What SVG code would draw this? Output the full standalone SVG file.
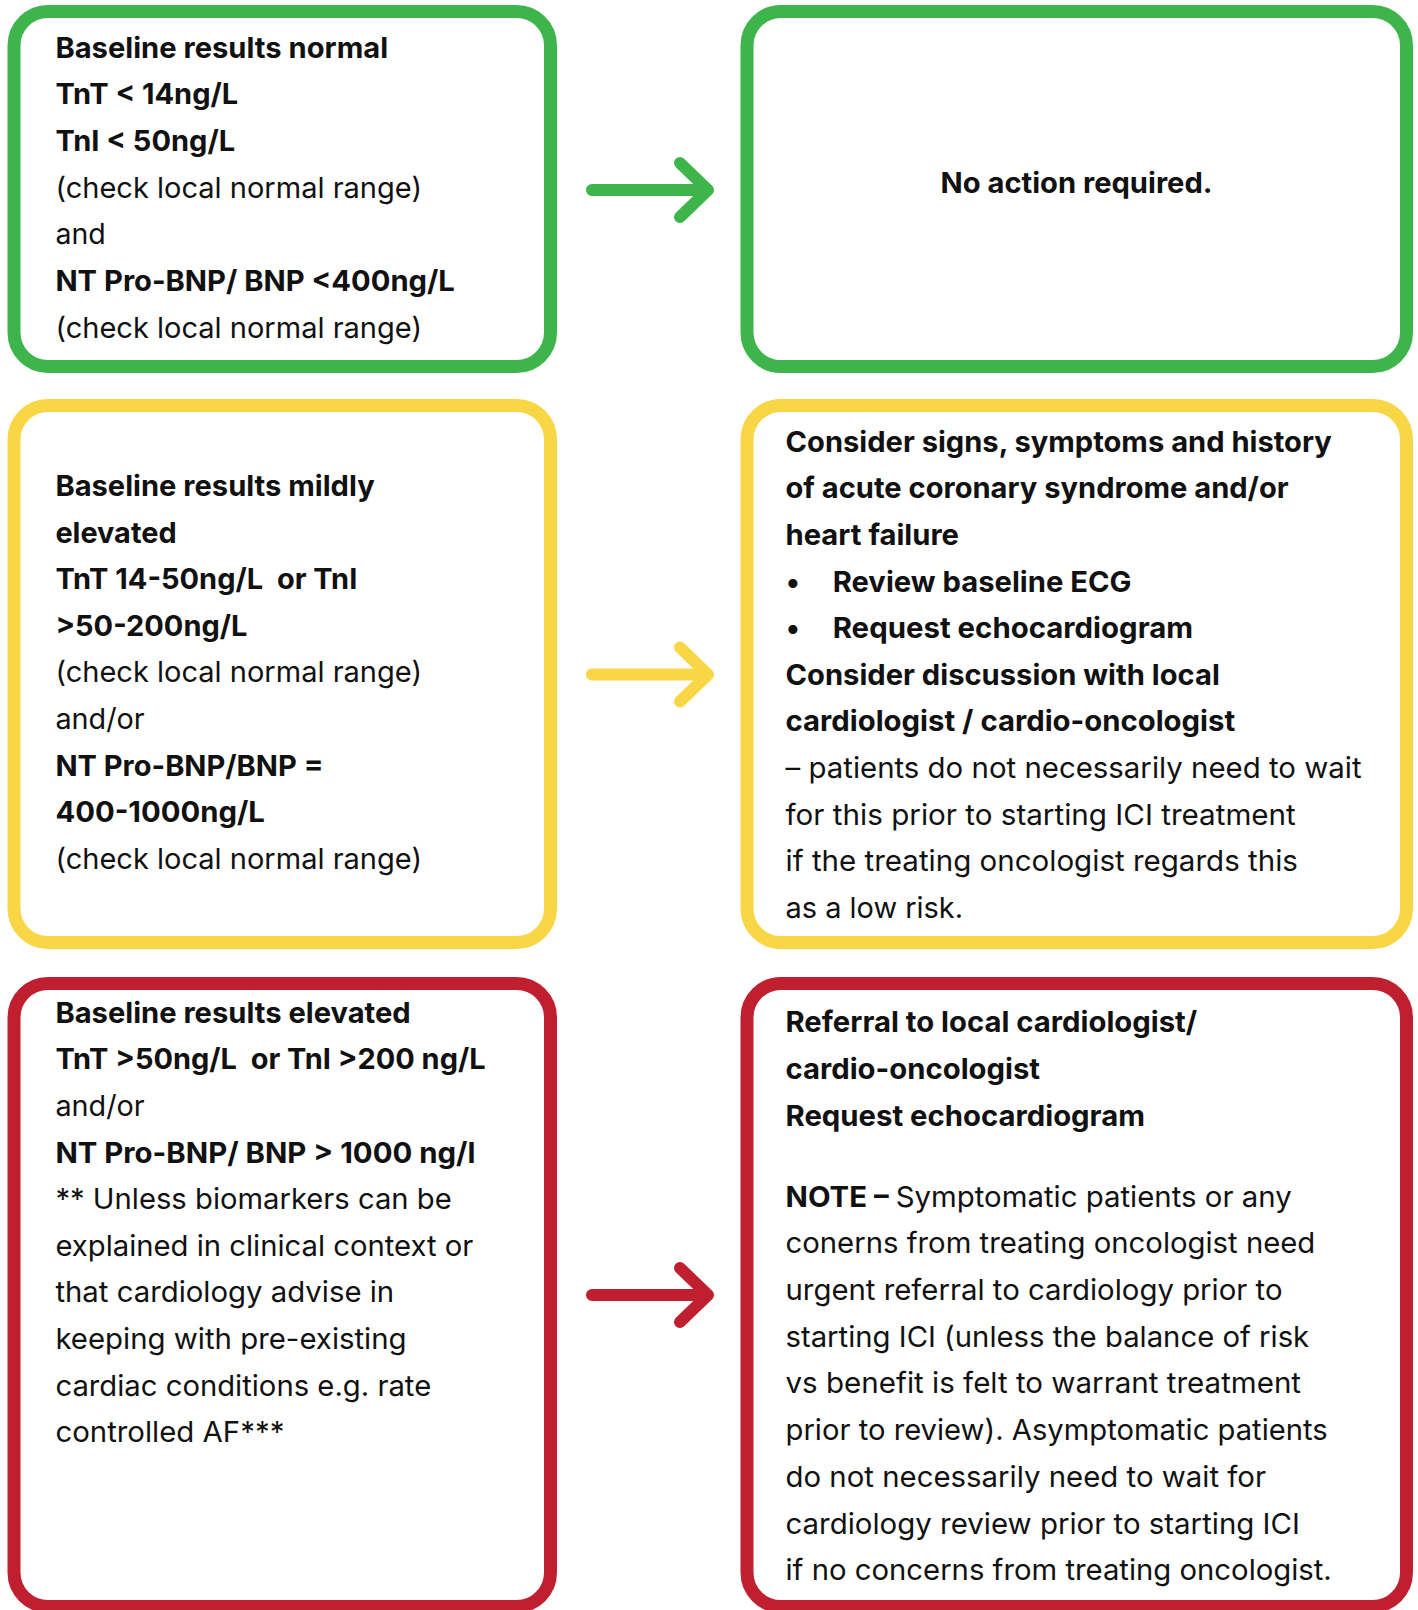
<svg xmlns="http://www.w3.org/2000/svg" width="1418" height="1610" viewBox="0 0 1418 1610">
<style>
.box{fill:#fff;stroke-width:13}
.g{stroke:#3DB54A}.y{stroke:#F9D646}.r{stroke:#C01F30}
.arr{fill:none;stroke-width:12;stroke-linecap:round;stroke-linejoin:round}
text{font-family:Inter,"Liberation Sans",sans-serif;font-size:29px;fill:#111}
.b{font-weight:700}
</style>
<rect width="1418" height="1610" fill="#fff"/>
<g id="connectors">
<path class="arr g" d="M592 190H708M680 163L708 190L680 217"/>
<path class="arr y" d="M592 674.5H708M680 647.5L708 674.5L680 701.5"/>
<path class="arr r" d="M592 1295H708M680 1268L708 1295L680 1322"/>
</g>
<g id="normal-results">
<rect class="box g" x="14" y="11.5" width="536.5" height="355" rx="34"/>
<text x="55.4" y="57.5" class="b" textLength="332.7" lengthAdjust="spacingAndGlyphs">Baseline results normal</text>
<text x="55.4" y="104.2" class="b" textLength="182.8" lengthAdjust="spacingAndGlyphs">TnT &lt; 14ng/L</text>
<text x="55.4" y="150.9" class="b" textLength="179.7" lengthAdjust="spacingAndGlyphs">TnI &lt; 50ng/L</text>
<text x="55.4" y="197.6" textLength="366.6" lengthAdjust="spacingAndGlyphs">(check local normal range)</text>
<text x="55.4" y="244.3" textLength="50.3" lengthAdjust="spacingAndGlyphs">and</text>
<text x="55.4" y="291" class="b" textLength="399.4" lengthAdjust="spacingAndGlyphs">NT Pro-BNP/ BNP &lt;400ng/L</text>
<text x="55.4" y="337.7" textLength="366.6" lengthAdjust="spacingAndGlyphs">(check local normal range)</text>
</g>
<g id="no-action">
<rect class="box g" x="747" y="11.5" width="659.5" height="355" rx="34"/>
<text x="1076.5" y="193" class="b" text-anchor="middle" textLength="272" lengthAdjust="spacingAndGlyphs">No action required.</text>
</g>
<g id="mild-results">
<rect class="box y" x="14" y="405.5" width="536.5" height="537" rx="34"/>
<text x="55.4" y="496" class="b" textLength="319.3" lengthAdjust="spacingAndGlyphs">Baseline results mildly</text>
<text x="55.4" y="542.6" class="b" textLength="121.2" lengthAdjust="spacingAndGlyphs">elevated</text>
<text x="55.4" y="589.2" class="b" xml:space="preserve" textLength="301.9" lengthAdjust="spacingAndGlyphs">TnT 14-50ng/L  or TnI</text>
<text x="55.4" y="635.8" class="b" textLength="192" lengthAdjust="spacingAndGlyphs">&gt;50-200ng/L</text>
<text x="55.4" y="682.4" textLength="366.6" lengthAdjust="spacingAndGlyphs">(check local normal range)</text>
<text x="55.4" y="729" textLength="89.3" lengthAdjust="spacingAndGlyphs">and/or</text>
<text x="55.4" y="775.6" class="b" textLength="268" lengthAdjust="spacingAndGlyphs">NT Pro-BNP/BNP =</text>
<text x="55.4" y="822.2" class="b" textLength="209.5" lengthAdjust="spacingAndGlyphs">400-1000ng/L</text>
<text x="55.4" y="868.8" textLength="366.6" lengthAdjust="spacingAndGlyphs">(check local normal range)</text>
</g>
<g id="mild-action">
<rect class="box y" x="747" y="405.5" width="659.5" height="537" rx="34"/>
<text x="785.5" y="451.8" class="b" textLength="546.3" lengthAdjust="spacingAndGlyphs">Consider signs, symptoms and history</text>
<text x="785.5" y="498.4" class="b" textLength="503.1" lengthAdjust="spacingAndGlyphs">of acute coronary syndrome and/or</text>
<text x="785.5" y="545" class="b" textLength="173.5" lengthAdjust="spacingAndGlyphs">heart failure</text>
<text x="786" y="591.6" class="b">•</text>
<text x="832.7" y="591.6" class="b" textLength="298.8" lengthAdjust="spacingAndGlyphs">Review baseline ECG</text>
<text x="786" y="638.2" class="b">•</text>
<text x="832.7" y="638.2" class="b" textLength="360.4" lengthAdjust="spacingAndGlyphs">Request echocardiogram</text>
<text x="785.5" y="684.8" class="b" textLength="434.3" lengthAdjust="spacingAndGlyphs">Consider discussion with local</text>
<text x="785.5" y="731.4" class="b" textLength="449.7" lengthAdjust="spacingAndGlyphs">cardiologist / cardio-oncologist</text>
<text x="785.5" y="778" textLength="576" lengthAdjust="spacingAndGlyphs">– patients do not necessarily need to wait</text>
<text x="785.5" y="824.6" textLength="510.3" lengthAdjust="spacingAndGlyphs">for this prior to starting ICI treatment</text>
<text x="785.5" y="871.2" textLength="512.4" lengthAdjust="spacingAndGlyphs">if the treating oncologist regards this</text>
<text x="785.5" y="917.8" textLength="177.6" lengthAdjust="spacingAndGlyphs">as a low risk.</text>
</g>
<g id="elevated-results">
<rect class="box r" x="14" y="983.5" width="536.5" height="623" rx="34"/>
<text x="55.4" y="1022.8" class="b" textLength="355.3" lengthAdjust="spacingAndGlyphs">Baseline results elevated</text>
<text x="55.4" y="1069.4" class="b" xml:space="preserve" textLength="430.2" lengthAdjust="spacingAndGlyphs">TnT &gt;50ng/L  or TnI &gt;200 ng/L</text>
<text x="55.4" y="1116" textLength="89.3" lengthAdjust="spacingAndGlyphs">and/or</text>
<text x="55.4" y="1162.6" class="b" textLength="420" lengthAdjust="spacingAndGlyphs">NT Pro-BNP/ BNP &gt; 1000 ng/l</text>
<text x="55.4" y="1209.2" textLength="396.3" lengthAdjust="spacingAndGlyphs">** Unless biomarkers can be</text>
<text x="55.4" y="1255.8" textLength="417.9" lengthAdjust="spacingAndGlyphs">explained in clinical context or</text>
<text x="55.4" y="1302.4" textLength="338.8" lengthAdjust="spacingAndGlyphs">that cardiology advise in</text>
<text x="55.4" y="1349" textLength="351.2" lengthAdjust="spacingAndGlyphs">keeping with pre-existing</text>
<text x="55.4" y="1395.6" textLength="375.8" lengthAdjust="spacingAndGlyphs">cardiac conditions e.g. rate</text>
<text x="55.4" y="1442.2" textLength="229" lengthAdjust="spacingAndGlyphs">controlled AF***</text>
</g>
<g id="elevated-action">
<rect class="box r" x="747" y="983.5" width="659.5" height="623" rx="34"/>
<text x="785.5" y="1032" class="b" textLength="411.7" lengthAdjust="spacingAndGlyphs">Referral to local cardiologist/</text>
<text x="785.5" y="1079.2" class="b" textLength="254.6" lengthAdjust="spacingAndGlyphs">cardio-oncologist</text>
<text x="785.5" y="1126.4" class="b" textLength="359.4" lengthAdjust="spacingAndGlyphs">Request echocardiogram</text>
<text x="785.5" y="1206.6" textLength="506.2" lengthAdjust="spacingAndGlyphs"><tspan class="b">NOTE – </tspan>Symptomatic patients or any</text>
<text x="785.5" y="1253.3" textLength="529.8" lengthAdjust="spacingAndGlyphs">conerns from treating oncologist need</text>
<text x="785.5" y="1300" textLength="497" lengthAdjust="spacingAndGlyphs">urgent referral to cardiology prior to</text>
<text x="785.5" y="1346.7" textLength="523.7" lengthAdjust="spacingAndGlyphs">starting ICI (unless the balance of risk</text>
<text x="785.5" y="1393.4" textLength="515.5" lengthAdjust="spacingAndGlyphs">vs benefit is felt to warrant treatment</text>
<text x="785.5" y="1440.1" textLength="542.2" lengthAdjust="spacingAndGlyphs">prior to review). Asymptomatic patients</text>
<text x="785.5" y="1486.8" textLength="480.5" lengthAdjust="spacingAndGlyphs">do not necessarily need to wait for</text>
<text x="785.5" y="1533.5" textLength="514.4" lengthAdjust="spacingAndGlyphs">cardiology review prior to starting ICI</text>
<text x="785.5" y="1580.2" textLength="546.3" lengthAdjust="spacingAndGlyphs">if no concerns from treating oncologist.</text>
</g>
</svg>
